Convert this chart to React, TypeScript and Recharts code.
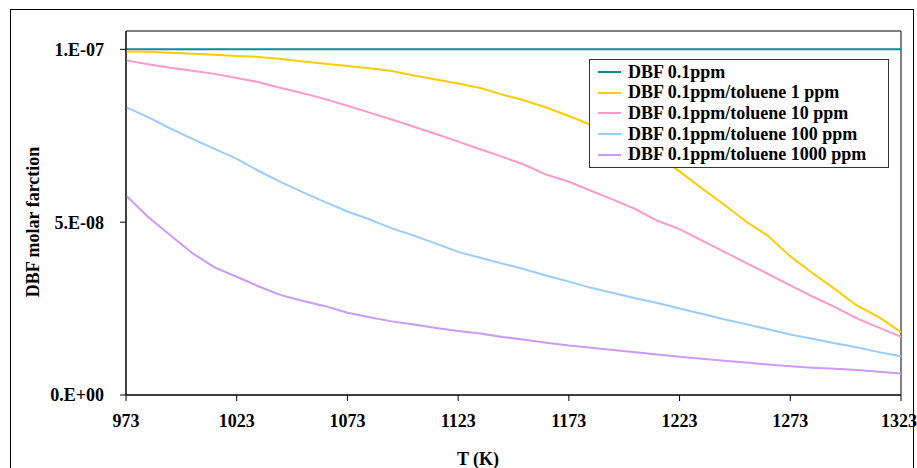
import { LineChart, Line, XAxis, YAxis, ReferenceArea, Legend } from 'recharts';

// Temperature grid (K)
const temps = [
  973, 983, 993, 1003, 1013, 1023, 1033, 1043, 1053, 1063, 1073, 1083,
  1093, 1103, 1113, 1123, 1133, 1143, 1153, 1163, 1173, 1183, 1193, 1203,
  1213, 1223, 1233, 1243, 1253, 1263, 1273, 1283, 1293, 1303, 1313, 1323,
];

// DBF molar fraction, in units of 1e-7
const dbfOnly = [
  1, 1, 1, 1, 1, 1, 1, 1, 1, 1, 1, 1,
  1, 1, 1, 1, 1, 1, 1, 1, 1, 1, 1, 1,
  1, 1, 1, 1, 1, 1, 1, 1, 1, 1, 1, 1,
];
const toluene1 = [
  0.994, 0.993, 0.99, 0.987, 0.984, 0.981, 0.978, 0.972, 0.965, 0.958, 0.952, 0.945,
  0.937, 0.924, 0.913, 0.901, 0.888, 0.869, 0.852, 0.831, 0.807, 0.781, 0.755, 0.726,
  0.69, 0.647, 0.598, 0.551, 0.502, 0.46, 0.401, 0.353, 0.307, 0.259, 0.225, 0.182,
];
const toluene10 = [
  0.968, 0.957, 0.947, 0.938, 0.929, 0.917, 0.905, 0.888, 0.873, 0.856, 0.837, 0.817,
  0.797, 0.776, 0.755, 0.733, 0.711, 0.689, 0.666, 0.637, 0.617, 0.591, 0.565, 0.538,
  0.504, 0.48, 0.447, 0.415, 0.382, 0.35, 0.317, 0.285, 0.255, 0.222, 0.195, 0.168,
];
const toluene100 = [
  0.833, 0.804, 0.771, 0.741, 0.712, 0.683, 0.648, 0.616, 0.586, 0.558, 0.531, 0.508,
  0.482, 0.461, 0.438, 0.414, 0.397, 0.38, 0.364, 0.345, 0.328, 0.31, 0.295, 0.28,
  0.266, 0.25, 0.235, 0.219, 0.205, 0.19, 0.175, 0.163, 0.15, 0.138, 0.124, 0.112,
];
const toluene1000 = [
  0.577, 0.515, 0.462, 0.41, 0.369, 0.342, 0.314, 0.289, 0.272, 0.257, 0.238, 0.225,
  0.213, 0.204, 0.194, 0.185, 0.178, 0.168, 0.16, 0.151, 0.143, 0.137, 0.13, 0.124,
  0.117, 0.111, 0.105, 0.099, 0.094, 0.088, 0.083, 0.079, 0.076, 0.072, 0.067, 0.062,
];

const xTicks = [973, 1023, 1073, 1123, 1173, 1223, 1273, 1323];
const yTicks = [0, 0.5, 1];
const yTickLabels = ['0.E+00', '5.E-08', '1.E-07'];

const series = [
  { key: 's0', name: 'DBF 0.1ppm', color: '#008f8f', values: dbfOnly },
  { key: 's1', name: 'DBF 0.1ppm/toluene 1 ppm', color: '#ffcc00', values: toluene1 },
  { key: 's2', name: 'DBF 0.1ppm/toluene 10 ppm', color: '#ff99cc', values: toluene10 },
  { key: 's3', name: 'DBF 0.1ppm/toluene 100 ppm', color: '#99ccff', values: toluene100 },
  { key: 's4', name: 'DBF 0.1ppm/toluene 1000 ppm', color: '#cc99ff', values: toluene1000 },
];

const FONT = "'Liberation Serif', 'Times New Roman', serif";

const data = temps.map((t, i) => {
  const row: Record<string, number> = { T: t };
  series.forEach((s) => {
    row[s.key] = s.values[i];
  });
  return row;
});

const tickStyle = { fontSize: 18, fontWeight: 700, fill: '#000', fontFamily: FONT };

function LegendBox() {
  return (
    <div
      style={{
        width: 300,
        boxSizing: 'border-box',
        border: '1px solid #333',
        background: '#fff',
        padding: '2px 8px',
        fontFamily: FONT,
        fontWeight: 700,
        fontSize: 18,
        color: '#000',
      }}
    >
      {series.map((s) => (
        <div key={s.key} style={{ display: 'flex', alignItems: 'center', height: 20.6 }}>
          <span style={{ display: 'inline-block', width: 23, height: 2, background: s.color, marginRight: 7 }} />
          <span style={{ whiteSpace: 'nowrap' }}>{s.name}</span>
        </div>
      ))}
    </div>
  );
}

export default function App() {
  return (
    <div style={{ position: 'absolute', left: 0, top: 0, width: 917, height: 468, overflow: 'hidden', background: '#fff' }}>
      <div
        style={{
          position: 'absolute',
          left: 10,
          top: 9,
          width: 904,
          height: 500,
          border: '1px solid #000',
          boxSizing: 'border-box',
        }}
      />
      <div style={{ position: 'absolute', left: 0, top: 0 }}>
        <LineChart width={917} height={468} data={data} margin={{ top: 31, right: 16, left: 0, bottom: 0 }}>
          <XAxis
            type="number"
            dataKey="T"
            domain={[973, 1323]}
            ticks={xTicks}
            height={73}
            tickSize={6}
            tickMargin={13}
            tick={tickStyle}
            axisLine={{ stroke: '#000' }}
            tickLine={{ stroke: '#000' }}
          />
          <YAxis
            type="number"
            domain={[0, 1.053]}
            ticks={yTicks}
            width={126}
            tickSize={6}
            tickMargin={16}
            tick={tickStyle}
            tickFormatter={(v: number) => yTickLabels[yTicks.indexOf(v)] ?? ''}
            axisLine={{ stroke: '#000' }}
            tickLine={{ stroke: '#000' }}
          />
          <ReferenceArea x1={973} x2={1323} y1={0} y2={1.053} fill="none" stroke="#000" strokeWidth={1} ifOverflow="visible" />
          {series.map((s) => (
            <Line
              key={s.key}
              type="linear"
              dataKey={s.key}
              name={s.name}
              stroke={s.color}
              strokeWidth={2}
              dot={false}
              isAnimationActive={false}
            />
          ))}
          <Legend
            layout="vertical"
            align="center"
            verticalAlign="middle"
            content={() => <LegendBox />}
            wrapperStyle={{ position: 'absolute', left: 589, top: 59, width: 'auto' }}
          />
        </LineChart>
      </div>
      <div
        style={{
          position: 'absolute',
          left: 33,
          top: 222,
          transform: 'translate(-50%, -50%) rotate(-90deg)',
          whiteSpace: 'nowrap',
          fontFamily: FONT,
          fontWeight: 700,
          fontSize: 18,
        }}
      >
        DBF molar farction
      </div>
      <div
        style={{
          position: 'absolute',
          left: 478,
          top: 459,
          transform: 'translate(-50%, -50%)',
          whiteSpace: 'nowrap',
          fontFamily: FONT,
          fontWeight: 700,
          fontSize: 18,
        }}
      >
        T (K)
      </div>
    </div>
  );
}
